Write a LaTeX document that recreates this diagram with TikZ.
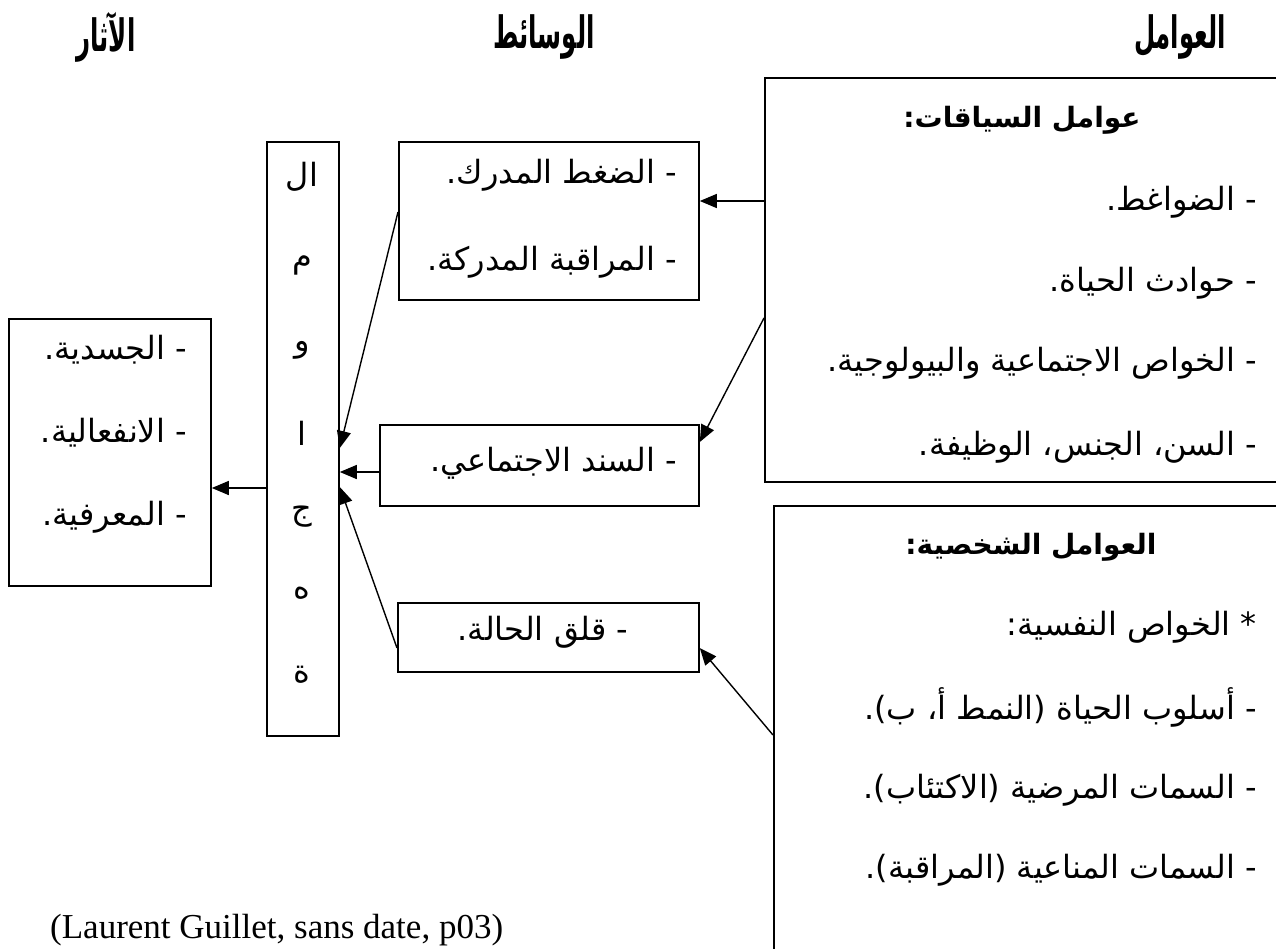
\documentclass[tikz,border=0pt]{standalone}
\usepackage{fontspec}
\setmainfont{Liberation Serif}
\newfontfamily\arabicfont[Script=Arabic]{DejaVu Sans}
\TeXXeTstate=1
\usetikzlibrary{arrows.meta,calc}

\newcommand{\headtext}[1]{\scalebox{0.74}[1.35]{\beginR #1\endR}}

\tikzset{
  x=1pt, y=-1pt,
  box/.style={draw, line width=1.8pt, inner sep=0pt, anchor=north west},
  body/.style={font=\arabicfont\fontsize{32}{38}\selectfont, inner sep=0pt, anchor=east},
  title/.style={font=\arabicfont\bfseries\fontsize{28}{34}\selectfont, inner sep=0pt},
  head/.style={font=\arabicfont\bfseries\fontsize{33}{38}\selectfont, inner sep=0pt},
  letter/.style={font=\arabicfont\fontsize{32}{36}\selectfont, inner sep=0pt},
  arr/.style={-{Triangle[length=17pt,width=14pt]}, line width=1.4pt},
}

\begin{document}
\begin{tikzpicture}
\useasboundingbox (0,0) rectangle (1276,948);
\fill[white] (0,0) rectangle (1276,948);
\clip (0,0) rectangle (1276,948);

% column headings
\node[head] (hEff) at (106,37) {\headtext{الآثار}};
\node[head] (hMed) at (544,37) {\headtext{الوسائط}};
\node[head] (hFac) at (1180,37) {\headtext{العوامل}};

% context factors
\node[box, minimum width=540pt, minimum height=404pt] (ctx) at (764,77) {};
\node[title] (ctxT) at (1022,120) {\beginR عوامل السياقات:\endR};
\node[body] (c1) at (1257,202) {\beginR - الضواغط.\endR};
\node[body] (c2) at (1257,283) {\beginR - حوادث الحياة.\endR};
\node[body] (c3) at (1257,363) {\beginR - الخواص الاجتماعية والبيولوجية.\endR};
\node[body] (c4) at (1257,447) {\beginR - السن، الجنس، الوظيفة.\endR};

% personal factors
\node[box, minimum width=540pt, minimum height=480pt] (pers) at (773,505) {};
\node[title] (persT) at (1031,547) {\beginR العوامل الشخصية:\endR};
\node[body] (p1) at (1257,627) {\beginR * الخواص النفسية:\endR};
\node[body] (p2) at (1257,707) {\beginR - أسلوب الحياة (النمط أ، ب).\endR};
\node[body] (p3) at (1257,790) {\beginR - السمات المرضية (الاكتئاب).\endR};
\node[body] (p4) at (1257,870) {\beginR - السمات المناعية (المراقبة).\endR};

% mediators
\node[box, minimum width=300pt, minimum height=158pt] (med1) at (398,141) {};
\node[body] (m1a) at (677,175) {\beginR - الضغط المدرك.\endR};
\node[body] (m1b) at (677,262) {\beginR - المراقبة المدركة.\endR};
\node[box, minimum width=319pt, minimum height=81pt] (med2) at (379,424) {};
\node[body] (m2) at (677,463) {\beginR - السند الاجتماعي.\endR};
\node[box, minimum width=301pt, minimum height=69pt] (med3) at (397,602) {};
\node[body, anchor=center] (m3) at (543,632) {\beginR - قلق الحالة.\endR};

% coping column
\node[box, minimum width=72pt, minimum height=594pt] (cope) at (266,141) {};
\node[letter] (k1) at (302,177) {\beginR ال\endR};
\node[letter] (k2) at (302,265) {\beginR م\endR};
\node[letter] (k3) at (302,350) {\beginR و\endR};
\node[letter] (k4) at (302,433) {\beginR ا\endR};
\node[letter] (k5) at (302,517) {\beginR ج\endR};
\node[letter] (k6) at (302,593) {\beginR ه\endR};
\node[letter] (k7) at (302,675) {\beginR ة\endR};

% effects
\node[box, minimum width=202pt, minimum height=267pt] (eff) at (8,318) {};
\node[body] (e1) at (187,350) {\beginR - الجسدية.\endR};
\node[body] (e2) at (187,433) {\beginR - الانفعالية.\endR};
\node[body] (e3) at (187,517) {\beginR - المعرفية.\endR};

% connectors
\draw[arr] (ctx.west |- 0,201) -- (med1.east |- 0,201);
\draw[arr] (ctx.west |- 0,318) -- (med2.east |- 0,442);
\draw[arr] (pers.west |- 0,735) -- (med3.east |- 0,648);
\draw[arr] (med1.west |- 0,212) -- (cope.east |- 0,448);
\draw[arr] (med2.west |- 0,472) -- (cope.east |- 0,472);
\draw[arr] (med3.west |- 0,648) -- (cope.east |- 0,487);
\draw[arr] (cope.west |- 0,488) -- (eff.east |- 0,488);

% source
\node[anchor=base west, font=\fontsize{35}{40}\selectfont, inner sep=0pt] (cite) at (50,938) {(Laurent Guillet, sans date, p03)};
\end{tikzpicture}
\end{document}
